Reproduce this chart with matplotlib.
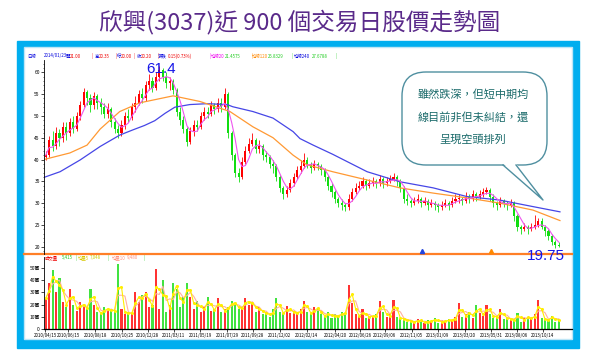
import numpy as np
import pandas as pd
import matplotlib
matplotlib.use("Agg")
import matplotlib.pyplot as plt
from matplotlib.patches import FancyBboxPatch, Rectangle, Polygon
from matplotlib import font_manager

plt.rcParams['font.family'] = ['Noto Sans CJK TC', 'DejaVu Sans']

# ---- 資料 (每根K棒約代表 6 個交易日) ----
title = "欣興(3037)近 900 個交易日股價走勢圖"
note_lines = ["雖然跌深，但短中期均", "線目前非但未糾結，還", "呈現空頭排列"]

first_open = 40.5
close = [
    41.0, 44.5, 43.0, 46.0, 45.0, 47.5, 46.0, 48.5, 47.0, 50.0,
    52.5, 55.5, 54.0, 52.5, 54.5, 53.0, 52.0, 50.5, 51.5, 48.5,
    47.0, 46.0, 48.0, 50.0, 49.5, 52.0, 53.0, 55.0, 54.0, 57.0,
    58.0, 56.5, 59.0, 60.5, 59.0, 57.5, 58.0, 56.0, 51.0, 49.0,
    47.0, 44.0, 46.5, 48.0, 47.5, 50.0, 51.0, 50.5, 52.5, 51.5,
    53.0, 52.0, 55.0, 46.0, 41.0, 37.0, 36.0, 39.5, 42.0, 43.5,
    44.5, 42.5, 43.0, 41.0, 40.5, 39.0, 38.5, 36.0, 33.5, 32.0,
    33.0, 34.5, 36.0, 37.5, 38.5, 40.0, 39.0, 38.0, 39.0, 38.5,
    37.5, 36.0, 34.0, 32.5, 31.0, 30.0, 29.5, 29.0, 31.0, 32.5,
    33.5, 34.0, 35.0, 34.0, 34.5, 35.0, 34.5, 35.5, 34.5, 35.0,
    35.5, 36.0, 35.0, 33.5, 31.0, 30.5, 30.0, 30.5, 31.0, 30.0,
    30.5, 29.5, 30.0, 29.5, 29.0, 29.5, 30.0, 29.5, 30.5, 31.0,
    31.0, 30.5, 31.5, 31.0, 32.0, 31.5, 32.0, 32.5, 33.0, 31.5,
    30.0, 29.5, 30.5, 30.0, 29.5, 30.0, 27.0, 24.5, 24.0, 24.5,
    24.0, 24.5, 25.0, 26.0, 24.5, 23.5, 22.5, 21.0, 20.5, 20.2,
]
high = [
    42.0, 45.5, 46.5, 47.5, 47.0, 48.5, 48.5, 49.5, 50.0, 51.0,
    53.5, 56.5, 56.0, 55.0, 55.5, 55.0, 54.0, 53.0, 53.0, 52.0,
    49.5, 48.0, 49.0, 51.0, 51.5, 53.0, 54.5, 56.0, 56.5, 58.0,
    59.5, 59.0, 60.0, 61.4, 61.0, 60.0, 59.0, 58.5, 56.5, 52.0,
    50.0, 47.5, 47.5, 49.0, 49.0, 51.0, 52.0, 52.0, 53.5, 53.0,
    54.0, 54.0, 56.5, 55.5, 46.5, 41.5, 38.0, 40.5, 43.0, 45.0,
    46.0, 45.0, 44.5, 43.5, 42.0, 41.0, 40.0, 39.0, 36.5, 34.0,
    34.0, 35.5, 37.0, 38.5, 40.0, 41.5, 40.5, 39.5, 40.0, 39.5,
    39.0, 38.0, 36.5, 34.5, 33.0, 31.5, 31.0, 30.0, 32.0, 33.5,
    34.5, 35.0, 36.0, 35.5, 35.5, 36.0, 35.5, 36.5, 36.0, 36.0,
    36.5, 37.0, 36.5, 35.5, 34.0, 32.0, 31.0, 31.5, 32.0, 31.5,
    31.5, 31.0, 31.0, 30.5, 30.0, 30.5, 31.0, 30.5, 31.5, 32.0,
    32.0, 31.5, 32.5, 32.0, 33.0, 32.5, 33.0, 33.5, 33.8, 33.5,
    32.0, 30.5, 31.5, 31.0, 30.5, 31.0, 30.5, 27.5, 25.0, 25.5,
    25.0, 25.5, 27.3, 26.5, 26.5, 25.0, 24.0, 23.0, 21.5, 21.0,
]
low = [
    39.8, 40.5, 42.0, 42.5, 43.0, 44.0, 44.5, 45.5, 46.0, 46.5,
    49.0, 52.0, 52.5, 51.0, 51.5, 51.5, 50.5, 49.5, 49.5, 47.5,
    46.0, 45.0, 45.5, 47.0, 48.5, 49.0, 51.0, 52.5, 53.0, 53.5,
    56.0, 55.5, 56.0, 58.0, 58.0, 56.5, 56.0, 55.0, 50.0, 48.0,
    46.0, 43.0, 43.5, 45.5, 46.5, 47.0, 49.0, 49.5, 50.0, 50.5,
    51.0, 51.0, 51.5, 45.0, 40.0, 36.0, 34.8, 35.5, 39.0, 41.5,
    43.0, 41.5, 41.5, 40.0, 39.5, 38.0, 37.0, 35.0, 32.5, 31.0,
    31.5, 32.5, 34.0, 35.5, 37.0, 38.0, 38.0, 37.0, 37.5, 37.5,
    36.5, 35.0, 33.0, 31.5, 30.0, 29.0, 28.5, 28.3, 28.5, 30.5,
    32.0, 33.0, 33.5, 33.0, 33.5, 34.0, 33.5, 34.0, 33.5, 34.0,
    34.5, 35.0, 34.0, 32.5, 30.0, 29.5, 29.0, 29.5, 30.0, 29.0,
    29.5, 28.5, 29.0, 28.5, 28.0, 28.5, 29.0, 28.5, 29.0, 30.0,
    30.0, 29.5, 30.0, 30.0, 30.5, 30.5, 31.0, 31.5, 32.0, 30.5,
    29.0, 28.5, 29.0, 29.0, 28.5, 29.0, 26.0, 23.5, 23.0, 23.5,
    23.0, 23.5, 24.0, 24.5, 24.0, 22.5, 21.5, 20.5, 19.75, 20.0,
]
volume = [  # 萬
    25, 38, 48, 30, 42, 22, 18, 33, 20, 15,
    22, 18, 16, 33, 20, 14, 12, 18, 15, 16,
    14, 53, 16, 12, 14, 12, 30, 22, 28, 30,
    18, 20, 49, 16, 40, 14, 20, 38, 33, 18,
    26, 38, 26, 16, 23, 14, 18, 26, 15, 16,
    25, 14, 16, 18, 23, 20, 16, 18, 25, 20,
    22, 14, 18, 12, 14, 10, 16, 25, 14, 12,
    19, 13, 15, 12, 16, 23, 14, 12, 18, 16,
    12, 10, 14, 9, 12, 10, 14, 12, 36, 21,
    12, 10, 16, 9, 11, 10, 12, 23, 14, 10,
    12, 24, 10, 8, 9, 6, 7, 5, 8, 6,
    5, 7, 6, 9, 5, 7, 6, 8, 7, 10,
    21, 10, 12, 14, 9, 20, 13, 11, 20, 12,
    9, 11, 16, 8, 10, 7, 8, 13, 6, 9,
    10, 8, 12, 24, 9, 7, 8, 11, 6, 8,
]

# 長期均線 (交易日序號, 價格)
ma240_day = [0, 28, 63, 98, 132, 155, 175, 193, 211, 228, 254, 284, 319, 329,
             364, 399, 434, 446, 469, 503, 563, 620, 678, 737, 794, 852, 899]
ma240_val = [35.9, 37.2, 39.9, 43.0, 45.6, 46.8, 47.8, 48.9, 50.6, 52.0, 52.6, 52.8,
             52.6, 52.1, 51.0, 49.5, 46.4, 44.8, 43.3, 41.2, 37.2, 34.9, 33.5, 31.5,
             30.7, 29.2, 28.0]
ma120_day = [0, 45, 75, 98, 132, 167, 225, 272, 324, 364, 399, 434, 458, 503,
             563, 620, 678, 737, 794, 852, 899]
ma120_val = [40.0, 41.5, 43.3, 47.0, 51.0, 53.0, 54.6, 53.3, 51.0, 47.5, 45.0,
             41.0, 38.8, 37.2, 35.3, 33.5, 32.3, 31.2, 30.0, 28.4, 26.0]

date_ticks = [2, 42, 89, 136, 181, 226, 272, 319, 364, 411, 458, 507, 551, 594,
              641, 686, 733, 779, 824, 869]
date_labels = ["2010/04/15", "2010/06/15", "2010/08/18", "2010/10/25", "2010/12/28",
               "2011/03/11", "2011/05/19", "2011/07/29", "2011/09/28", "2011/12/02",
               "2012/02/14", "2012/04/20", "2012/06/26", "2012/09/06", "2012/11/05",
               "2013/01/09", "2013/03/20", "2013/05/31", "2013/08/06", "2013/10/14"]
price_ticks = [20, 25, 30, 35, 40, 45, 50, 55, 60]
vol_ticks = [0, 10, 20, 30, 40, 50]
vol_labels = ["0", "10萬", "20萬", "30萬", "40萬", "50萬"]
event_days = [658, 779]
event_colors = ["#2244DD", "#FF8800"]

close = np.array(close)
high = np.array(high)
low = np.array(low)
volume = np.array(volume)
opens = np.r_[first_open, close[:-1]]
xday = np.arange(len(close)) * 6 + 3
up = close >= opens
cols = np.where(up, "#FF0000", "#11DD11")

ma20 = pd.Series(close).rolling(4, min_periods=1).mean()
vma5 = pd.Series(volume).rolling(2, min_periods=1).mean()
vma10 = pd.Series(volume).rolling(3, min_periods=1).mean()

W, H = 600, 356
fig = plt.figure(figsize=(6, 3.56), dpi=100)


def box(x0, y0, x1, y1):
    return [x0 / W, 1 - y1 / H, (x1 - x0) / W, (y1 - y0) / H]


# 背景框
bg = fig.add_axes([0, 0, 1, 1], zorder=0)
bg.set_xlim(0, W)
bg.set_ylim(H, 0)
bg.axis("off")
bg.add_patch(Rectangle((17, 41), 562, 307, color="#00AEEF"))
bg.add_patch(Rectangle((24, 47), 548, 292, facecolor="white", edgecolor="#BFE6F6", lw=1))
bg.plot([24, 572], [254, 254], color="#FF7F27", lw=1.6)
bg.text(300, 22, title, ha="center", va="center", fontsize=17, color="#5A2A8A")

header = [(27, "日線", "#0000DD"), (44, "2014/01/23", "#0000DD"),
          (66, "開", "#0000DD"), (70, "21.00", "#EE0000"), (92, "|", "#EE0000"),
          (95, "高", "#0000DD"), (99, "20.35", "#EE0000"), (115, "|", "#EE0000"),
          (117, "低", "#0000DD"), (121, "20.00", "#EE0000"), (134, "|", "#EE0000"),
          (137, "收", "#0000DD"), (141, "20.20", "#EE0000"), (157, "|", "#EE0000"),
          (158, "漲跌", "#0000DD"), (168, "0.15(0.73%)", "#EE0000"), (209, "|", "#EE00EE"),
          (211, "均線20", "#EE00EE"), (225, "21.4575", "#22CC22"), (251, "|", "#FF8800"),
          (252, "均線120", "#FF8800"), (268, "25.8329", "#22CC22"), (292, "|", "#22CC22"),
          (294, "均線240", "#0000DD"), (312, "27.6788", "#22CC22"), (335, "|", "#22CC22")]
for hx, ht, hc in header:
    bg.text(hx, 56, ht, fontsize=3.2, color=hc, va="center", ha="left")

vheader = [(45, "成交量", "#EE0000"), (62, "5,415", "#22CC22"), (75, "|", "#22CC22"),
           (78, "均量5", "#D8C800"), (90, "7,048", "#C8D000"), (107, "|", "#22CC22"),
           (112, "均量10", "#FF9080"), (127, "9,480", "#FF9080"), (144, "|", "#22CC22")]
for hx, ht, hc in vheader:
    bg.text(hx, 258, ht, fontsize=3.2, color=hc, va="center", ha="left")

# 股價
ax = fig.add_axes(box(44, 60, 572, 254), zorder=2)
ax.patch.set_alpha(0)
ax.set_xlim(0, 920)
ax.set_ylim(18.33, 62.82)
for s in ["top", "right", "bottom"]:
    ax.spines[s].set_visible(False)
ax.spines["left"].set_linewidth(0.6)
ax.set_xticks([])
ax.set_yticks(price_ticks)
ax.set_yticklabels([str(t) for t in price_ticks], fontsize=3.5)
ax.set_yticks(np.arange(19, 63, 1), minor=True)
ax.tick_params(axis="y", which="major", length=2, width=0.5, pad=1)
ax.tick_params(axis="y", which="minor", length=1, width=0.4)

ax.vlines(xday, low, high, colors=cols, lw=0.6)
body = np.maximum(np.abs(close - opens), 0.2)
ax.bar(xday, body, bottom=np.minimum(close, opens), width=3.6, color=cols, lw=0)
ax.plot(ma240_day, ma240_val, color="#4646E6", lw=0.9)
ax.plot(ma120_day, ma120_val, color="#FF9933", lw=0.9)
ax.plot(xday, ma20, color="#EE55EE", lw=0.8)
for d, c in zip(event_days, event_colors):
    ax.plot(d, 19.0, marker="^", color=c, ms=3, lw=0)

# 成交量
av = fig.add_axes(box(44, 257, 572, 329), zorder=2)
av.patch.set_alpha(0)
av.set_xlim(0, 920)
av.set_ylim(0, 59)
for s in ["top", "right"]:
    av.spines[s].set_visible(False)
av.spines["left"].set_linewidth(0.6)
av.spines["bottom"].set_linewidth(0.9)
av.bar(xday, volume, width=3.6, color=cols, alpha=0.8, lw=0)
av.plot(xday, vma10, color="#FFB0A0", lw=0.8)
av.plot(xday, vma5, color="#FFEE00", lw=0.8, marker="o", ms=1.2)
av.set_yticks(vol_ticks)
av.set_yticklabels(vol_labels, fontsize=3.5)
av.set_xticks(date_ticks)
av.set_xticklabels(date_labels, fontsize=3.2)
av.tick_params(axis="both", length=2, width=0.5, pad=1)

# 標註
top = fig.add_axes([0, 0, 1, 1], zorder=5)
top.set_xlim(0, W)
top.set_ylim(H, 0)
top.axis("off")
top.patch.set_alpha(0)

narrow = None
for name in ["Liberation Sans Narrow", "DejaVu Sans Condensed"]:
    try:
        font_manager.findfont(name, fallback_to_default=False)
        narrow = name
        break
    except Exception:
        pass
if narrow is None:
    num_kw = dict(family="Liberation Sans", fontsize=11)
else:
    num_kw = dict(family=narrow, fontsize=12.5)
top.text(161, 69, "61.4", color="#1515E8", ha="center", va="center", **num_kw)
top.text(546, 256, "19.75", color="#1515E8", ha="center", va="center", **num_kw)

edge = "#4F8FA0"
top.add_patch(FancyBboxPatch((402, 72), 145, 93, boxstyle="round,pad=0,rounding_size=24",
                             facecolor="white", edgecolor=edge, lw=1))
top.add_patch(Polygon([(503, 163.5), (543, 200), (516, 163.5)], closed=True,
                      facecolor="white", edgecolor="none"))
top.plot([503, 543, 516], [165, 200, 165], color=edge, lw=1)
for k, line in enumerate(note_lines):
    top.text(473, 95 + k * 22.5, line, fontsize=8, color="#1B6B6B", ha="center", va="center")

fig.savefig("out.png", dpi=100)
